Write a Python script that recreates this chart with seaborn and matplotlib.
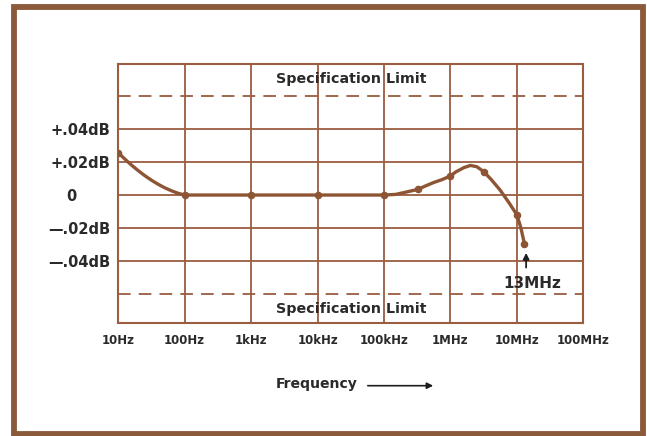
import matplotlib
matplotlib.use("Agg")
import matplotlib.pyplot as plt
import matplotlib.transforms as mtransforms
from matplotlib.patches import Rectangle
import seaborn as sns
import pandas as pd

# ---- data ----
marker_freq_hz = [10, 100, 1e3, 1e4, 1e5, 3.2e5, 1e6, 3.2e6, 1e7, 1.3e7]
marker_db = [0.0257, 0.0, 0.0, 0.0, 0.0, 0.0034, 0.0116, 0.0141, -0.0120, -0.0297]

# traced response curve
curve_freq_hz = [10, 12.6, 15.8, 20, 25, 31.6, 40, 50, 63, 79, 100,
                 1e3, 1e4, 1e5, 1.5e5, 1.95e5, 3.2e5, 4.2e5, 5.5e5, 7.5e5, 1e6,
                 1.2e6, 1.6e6, 2e6, 2.5e6, 3.2e6, 4.2e6, 5.6e6, 7.5e6, 1e7, 1.15e7, 1.3e7]
curve_db = [0.0257, 0.0218, 0.0182, 0.0148, 0.0118, 0.0090, 0.0065, 0.0044, 0.0026, 0.0011, 0.0,
            0.0, 0.0, 0.0, 0.0004, 0.0014, 0.0034, 0.0055, 0.0075, 0.0094, 0.0116,
            0.0140, 0.0167, 0.0180, 0.0172, 0.0141, 0.0090, 0.0030, -0.0043, -0.0120, -0.0200, -0.0297]

x_tick_values = [10, 100, 1e3, 1e4, 1e5, 1e6, 1e7, 1e8]
x_tick_labels = ["10Hz", "100Hz", "1kHz", "10kHz", "100kHz", "1MHz", "10MHz", "100MHz"]
y_tick_values = [0.04, 0.02, 0.0, -0.02, -0.04]
y_tick_labels = ["+.04dB", "+.02dB", "0", "\u2014.02dB", "\u2014.04dB"]
spec_limit_db = 0.06
spec_label = "Specification Limit"
end_label = "13MHz"
end_freq_hz = 1.3e7
x_label = "Frequency"

# ---- style ----
sns.set_theme(style="white")
plt.rcParams["font.family"] = ["DejaVu Sans"]
plt.rcParams["font.weight"] = "bold"

BROWN = "#8e5535"
GRID = "#9a5d40"
FRAME = "#8b5a3b"
TEXT = "#2a2a2a"

W, H = 647, 436
fig = plt.figure(figsize=(W / 100, H / 100), dpi=100)
fig.patch.set_facecolor("white")

ax = fig.add_axes([118.3 / W, 1 - 323.3 / H, 465 / W, 259 / H])
ax.set_facecolor("white")
ax.set_xscale("log")
ax.set_xlim(10, 1e8)
ax.set_ylim(-0.078, 0.0795)

# grid
for xv in x_tick_values[1:-1]:
    ax.axvline(xv, color=GRID, lw=1.3, zorder=1)
for yv in y_tick_values:
    ax.axhline(yv, color=GRID, lw=1.3, zorder=1)
for s in ax.spines.values():
    s.set_color(GRID)
    s.set_linewidth(1.5)

# specification limits
for sgn in (1, -1):
    ax.axhline(sgn * spec_limit_db, color=GRID, lw=1.3, dashes=(7, 4.5), zorder=1)
ax.text(10 ** 4.5, 0.0705, spec_label, ha="center", va="center", fontsize=10.3,
        fontweight="bold", color=TEXT, zorder=3)
ax.text(10 ** 4.5, -0.0695, spec_label, ha="center", va="center", fontsize=10.3,
        fontweight="bold", color=TEXT, zorder=3)

# curve and points
curve_df = pd.DataFrame({"freq": curve_freq_hz, "db": curve_db})
pts_df = pd.DataFrame({"freq": marker_freq_hz, "db": marker_db})
sns.lineplot(data=curve_df, x="freq", y="db", sort=False, color=BROWN, lw=2.4,
             ax=ax, zorder=4)
sns.scatterplot(data=pts_df, x="freq", y="db", color=BROWN, s=30, edgecolor=BROWN,
                linewidth=0, ax=ax, zorder=5)

# ticks
ax.set_xticks(x_tick_values)
ax.set_xticklabels(x_tick_labels)
ax.minorticks_off()
ax.set_yticks(y_tick_values)
ax.set_yticklabels(y_tick_labels)
ax.tick_params(axis="x", length=0, pad=8, labelsize=8.5, labelcolor=TEXT)
ax.tick_params(axis="y", length=0, pad=6, labelsize=10.5, labelcolor=TEXT)
for lab in ax.get_xticklabels() + ax.get_yticklabels():
    lab.set_fontweight("bold")
zero_lab = ax.get_yticklabels()[2]
zero_lab.set_transform(zero_lab.get_transform() +
                       mtransforms.ScaledTranslation(-33 / 100, 0, fig.dpi_scale_trans))
ax.set_xlabel("")
ax.set_ylabel("")

# 13MHz annotation
ax.annotate("", xy=(end_freq_hz * 1.06, -0.0335), xytext=(end_freq_hz * 1.06, -0.0458),
            arrowprops=dict(arrowstyle="-|>", color="#1e1e1e", lw=1.3, mutation_scale=9),
            zorder=6)
ax.text(1.73e7, -0.0535, end_label, ha="center", va="center", fontsize=11,
        fontweight="bold", color=TEXT, zorder=6)

# frequency label
fig.text(276 / W, 1 - 384.3 / H, x_label, ha="left", va="center", fontsize=10.1,
         fontweight="bold", color=TEXT)
ax.annotate("", xy=(436 / W, 1 - 385.7 / H), xytext=(365 / W, 1 - 385.7 / H),
            xycoords="figure fraction", textcoords="figure fraction",
            arrowprops=dict(arrowstyle="-|>", color="#1e1e1e", lw=1.2,
                            mutation_scale=9), annotation_clip=False)

# outer frame
frame = Rectangle((13.5 / W, 1 - 434 / H), (642.5 - 13.5) / W, (434 - 7) / H,
                  transform=fig.transFigure, fill=False, edgecolor=FRAME, lw=4.2,
                  zorder=10)
fig.patches.append(frame)

fig.savefig("out.png", dpi=100)
